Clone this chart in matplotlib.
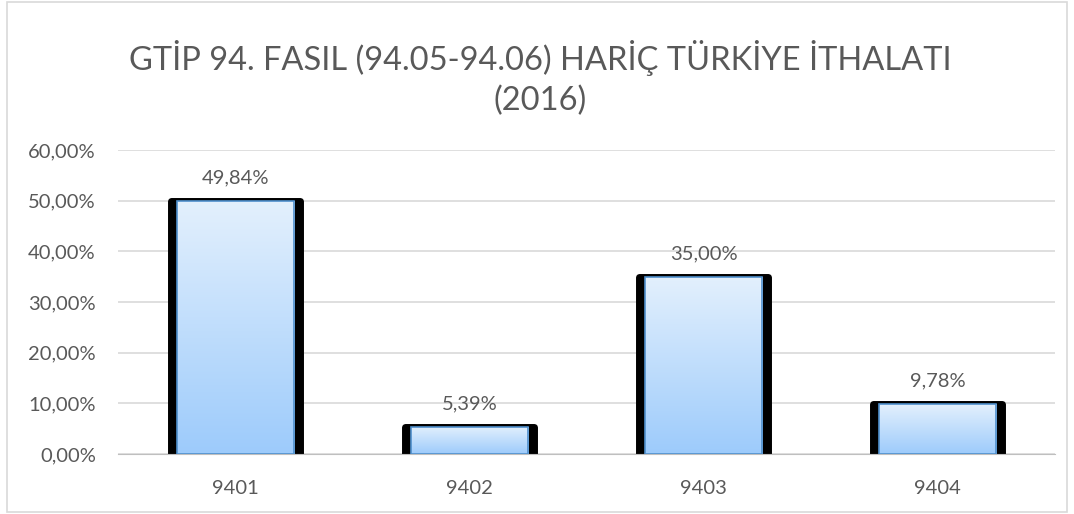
import numpy as np
import matplotlib.pyplot as plt
from matplotlib.patches import Rectangle

categories = ["9401", "9402", "9403", "9404"]
shares = [0.4984, 0.0539, 0.3500, 0.0978]
labels = ["49,84%", "5,39%", "35,00%", "9,78%"]
title = "GTİP 94. FASIL (94.05-94.06) HARİÇ TÜRKİYE İTHALATI\n(2016)"

plt.rcParams["font.family"] = ["Lato", "DejaVu Sans"]

fig = plt.figure(figsize=(10.74, 5.14), dpi=100)
ax = fig.add_axes([118 / 1074, 60 / 514, (1055 - 118) / 1074, (454 - 150) / 514])

# outer frame of the chart
fig.patches.append(Rectangle((7 / 1074, 2 / 514), 1060 / 1074, 1 - 4 / 514,
                             transform=fig.transFigure, fill=False,
                             edgecolor="#d9d9d9", linewidth=1.2))

x = np.arange(len(categories))
width = 0.55

# black outline behind the bars
ax.bar(x, shares, width=width, facecolor="black", edgecolor="black",
       linewidth=5, joinstyle="round", zorder=2)

# gradient fill
grad = np.linspace(0, 1, 256).reshape(-1, 1)
cmap = plt.matplotlib.colors.LinearSegmentedColormap.from_list(
    "g", ["#9dcbfb", "#e3f0fd"])
bars = ax.bar(x, shares, width=width - 0.05, facecolor="none",
              edgecolor="#4f8fcc", linewidth=1.2, zorder=4)
for b in bars:
    x0, y0 = b.get_x(), b.get_y()
    w, h = b.get_width(), b.get_height()
    im = ax.imshow(grad, extent=[x0, x0 + w, y0, y0 + h], origin="lower",
                   cmap=cmap, aspect="auto", zorder=3)
    im.set_clip_path(b)

for xi, v, lab in zip(x, shares, labels):
    ax.text(xi, v + 0.029, lab, ha="center", va="bottom", fontsize=14.5,
            color="#595959")

ax.set_xlim(-0.5, len(categories) - 0.5)
ax.set_ylim(0, 0.6)
ax.set_yticks(np.arange(0, 0.61, 0.1))
ax.set_yticklabels([f"{t * 100:.2f}%".replace(".", ",") for t in np.arange(0, 0.61, 0.1)])
ax.set_xticks(x)
ax.set_xticklabels(categories)
ax.tick_params(axis="both", length=0, colors="#595959", labelsize=14.5)
ax.tick_params(axis="y", pad=16)
ax.tick_params(axis="x", pad=19)
for s in ["top", "right", "left"]:
    ax.spines[s].set_visible(False)
ax.spines["bottom"].set_color("#bfbfbf")
ax.grid(axis="y", color="#d9d9d9", linewidth=1.2, zorder=0)
ax.set_axisbelow(True)

fig.text(0.503, 0.923, title, ha="center", va="top", fontsize=23.5,
         color="#595959", linespacing=1.4)

fig.savefig("out.png", dpi=100)
